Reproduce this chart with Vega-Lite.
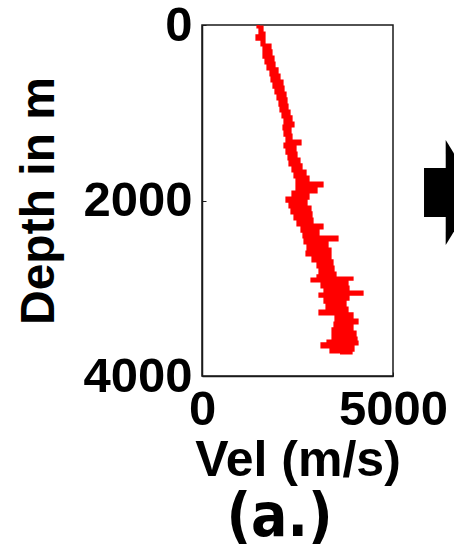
{
  "$schema": "https://vega.github.io/schema/vega-lite/v6.json",
  "width": 191,
  "height": 351,
  "autosize": {"type": "none"},
  "padding": {"left": 202, "top": 25, "right": 61, "bottom": 182},
  "background": "white",
  "title": {
    "text": "(a.)",
    "orient": "bottom",
    "anchor": "middle",
    "dx": -18,
    "offset": 4,
    "font": "Liberation Sans Narrow, DejaVu Sans Condensed, Liberation Sans, sans-serif",
    "fontSize": 60,
    "fontWeight": "bold",
    "color": "black"
  },
  "config": {
    "view": {"stroke": "#1a1a1a", "strokeWidth": 1.5},
    "axis": {
      "grid": false,
      "domainColor": "#1a1a1a",
      "domainWidth": 1.5,
      "tickColor": "#1a1a1a",
      "tickSize": -4,
      "tickWidth": 1,
      "labelFont": "Liberation Sans",
      "labelFontWeight": "bold",
      "labelFontSize": 49,
      "labelColor": "black",
      "labelFlush": false,
      "labelOverlap": false,
      "labelBound": false,
      "format": "d",
      "titleFont": "Liberation Sans",
      "titleFontWeight": "bold",
      "titleColor": "black"
    }
  },
  "datasets": {
    "vel": [
      {"depth": 0, "vel": 1466}, {"depth": 23, "vel": 1571}, {"depth": 57, "vel": 1518}, {"depth": 91, "vel": 1623},
      {"depth": 125, "vel": 1440}, {"depth": 160, "vel": 1623}, {"depth": 194, "vel": 1571}, {"depth": 228, "vel": 1780},
      {"depth": 262, "vel": 1623}, {"depth": 296, "vel": 1806}, {"depth": 330, "vel": 1623}, {"depth": 365, "vel": 1859},
      {"depth": 399, "vel": 1676}, {"depth": 433, "vel": 1885}, {"depth": 467, "vel": 1728}, {"depth": 501, "vel": 1964},
      {"depth": 536, "vel": 1806}, {"depth": 570, "vel": 2016}, {"depth": 604, "vel": 1833}, {"depth": 638, "vel": 2094},
      {"depth": 672, "vel": 1885}, {"depth": 707, "vel": 2121}, {"depth": 741, "vel": 1937}, {"depth": 775, "vel": 2173},
      {"depth": 809, "vel": 1990}, {"depth": 843, "vel": 2199}, {"depth": 877, "vel": 2042}, {"depth": 912, "vel": 2225},
      {"depth": 946, "vel": 2068}, {"depth": 980, "vel": 2278}, {"depth": 1014, "vel": 2121}, {"depth": 1048, "vel": 2330},
      {"depth": 1083, "vel": 2173}, {"depth": 1117, "vel": 2382}, {"depth": 1151, "vel": 2147}, {"depth": 1185, "vel": 2304},
      {"depth": 1219, "vel": 2173}, {"depth": 1254, "vel": 2330}, {"depth": 1288, "vel": 2225}, {"depth": 1322, "vel": 2566},
      {"depth": 1356, "vel": 2173}, {"depth": 1390, "vel": 2435}, {"depth": 1425, "vel": 2225}, {"depth": 1459, "vel": 2461},
      {"depth": 1493, "vel": 2278}, {"depth": 1527, "vel": 2539}, {"depth": 1561, "vel": 2304}, {"depth": 1595, "vel": 2592},
      {"depth": 1630, "vel": 2382}, {"depth": 1664, "vel": 2697}, {"depth": 1698, "vel": 2435}, {"depth": 1732, "vel": 2775},
      {"depth": 1766, "vel": 2487}, {"depth": 1801, "vel": 3142}, {"depth": 1835, "vel": 2487}, {"depth": 1869, "vel": 2985},
      {"depth": 1903, "vel": 2382}, {"depth": 1937, "vel": 2775}, {"depth": 1972, "vel": 2225}, {"depth": 2006, "vel": 2723},
      {"depth": 2040, "vel": 2304}, {"depth": 2074, "vel": 2827}, {"depth": 2108, "vel": 2356}, {"depth": 2142, "vel": 2854},
      {"depth": 2177, "vel": 2435}, {"depth": 2211, "vel": 2880}, {"depth": 2245, "vel": 2513}, {"depth": 2279, "vel": 3142},
      {"depth": 2313, "vel": 2618}, {"depth": 2348, "vel": 3037}, {"depth": 2382, "vel": 2670}, {"depth": 2416, "vel": 3534},
      {"depth": 2450, "vel": 2697}, {"depth": 2484, "vel": 3273}, {"depth": 2519, "vel": 2775}, {"depth": 2553, "vel": 3351},
      {"depth": 2587, "vel": 2749}, {"depth": 2621, "vel": 3351}, {"depth": 2655, "vel": 2906}, {"depth": 2689, "vel": 3403},
      {"depth": 2724, "vel": 3037}, {"depth": 2758, "vel": 3430}, {"depth": 2792, "vel": 3089}, {"depth": 2826, "vel": 3482},
      {"depth": 2860, "vel": 3037}, {"depth": 2883, "vel": 3927}, {"depth": 2895, "vel": 2880}, {"depth": 2917, "vel": 3796},
      {"depth": 2952, "vel": 3142}, {"depth": 2986, "vel": 3822}, {"depth": 3020, "vel": 3220}, {"depth": 3043, "vel": 4189},
      {"depth": 3066, "vel": 3089}, {"depth": 3089, "vel": 3822}, {"depth": 3123, "vel": 3220}, {"depth": 3157, "vel": 3744},
      {"depth": 3191, "vel": 3273}, {"depth": 3225, "vel": 3796}, {"depth": 3259, "vel": 3089}, {"depth": 3293, "vel": 3927},
      {"depth": 3327, "vel": 3508}, {"depth": 3362, "vel": 4058}, {"depth": 3396, "vel": 3482}, {"depth": 3430, "vel": 3927},
      {"depth": 3464, "vel": 3430}, {"depth": 3499, "vel": 4006}, {"depth": 3533, "vel": 3430}, {"depth": 3567, "vel": 4032},
      {"depth": 3601, "vel": 3299}, {"depth": 3613, "vel": 4058}, {"depth": 3635, "vel": 3142}, {"depth": 3669, "vel": 3953},
      {"depth": 3704, "vel": 3377}, {"depth": 3726, "vel": 3901}, {"depth": 3738, "vel": 3613}
    ],
    "shaft": [
      {"vel": 5812, "vel2": 6450, "depth": 1630, "depth2": 2188}
    ],
    "head": [
      {"depth": 1311, "vel": 6380, "vel2": 6380},
      {"depth": 1909, "vel": 6380, "vel2": 7226},
      {"depth": 2507, "vel": 6380, "vel2": 6380}
    ]
  },
  "encoding": {
    "x": {
      "field": "vel",
      "type": "quantitative",
      "scale": {"domain": [0, 5000], "nice": false, "zero": false},
      "axis": {"values": [0, 5000], "title": "Vel (m/s)", "titleFontSize": 50, "titlePadding": 1, "labelPadding": 13}
    },
    "y": {
      "field": "depth",
      "type": "quantitative",
      "scale": {"domain": [0, 4000], "nice": false, "zero": false, "reverse": true},
      "axis": {"values": [0, 2000, 4000], "title": "Depth in m", "titleFontSize": 48, "titlePadding": 19, "labelPadding": 14}
    }
  },
  "layer": [
    {
      "data": {"name": "vel"},
      "mark": {"type": "line", "color": "#ff0000", "strokeWidth": 3.2, "interpolate": "step-before"},
      "encoding": {"order": {"field": "depth", "type": "quantitative"}}
    },
    {
      "data": {"name": "shaft"},
      "mark": {"type": "rect", "color": "black", "clip": false},
      "encoding": {"x2": {"field": "vel2"}, "y2": {"field": "depth2"}}
    },
    {
      "data": {"name": "head"},
      "mark": {"type": "area", "orient": "horizontal", "color": "black", "clip": false},
      "encoding": {"x2": {"field": "vel2"}}
    }
  ]
}
